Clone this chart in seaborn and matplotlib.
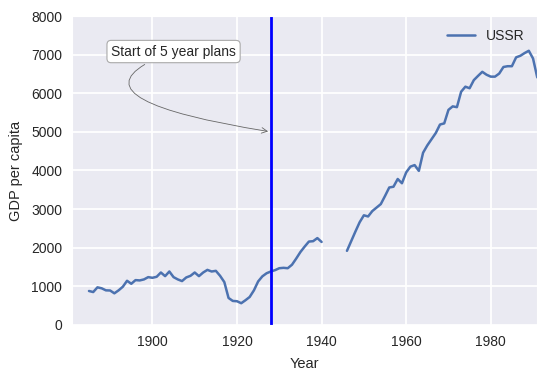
import numpy as np
import pandas as pd
import seaborn as sns
import matplotlib
matplotlib.use('Agg')
import matplotlib.pyplot as plt

# GDP per capita readings, USSR (gap 1941-1945)
years_pre = list(range(1885, 1941))
gdp_pre = [880, 853, 975, 950, 897, 893, 820, 897, 990, 1145,
           1067, 1162, 1154, 1180, 1239, 1222, 1248, 1359, 1265, 1385,
           1239, 1180, 1137, 1231, 1273, 1359, 1265, 1359, 1427, 1385,
           1402, 1273, 1111, 700, 623, 615, 564, 641, 726, 897,
           1128, 1260, 1340, 1385, 1420, 1470, 1480, 1470, 1560, 1720,
           1890, 2030, 2160, 2170, 2250, 2150]
years_post = list(range(1946, 1992))
gdp_post = [1920, 2170, 2420, 2660, 2840, 2810, 2950, 3040, 3130, 3340,
            3560, 3580, 3780, 3670, 3950, 4100, 4140, 3990, 4460, 4650,
            4810, 4970, 5190, 5220, 5570, 5660, 5640, 6040, 6170, 6130,
            6340, 6450, 6555, 6480, 6430, 6430, 6510, 6680, 6700, 6700,
            6930, 6970, 7040, 7100, 6900, 6410]

plan_year = 1928
note_text = 'Start of 5 year plans'

pre = pd.DataFrame({'Year': years_pre, 'GDP': gdp_pre})
post = pd.DataFrame({'Year': years_post, 'GDP': gdp_post})

sns.set_style('darkgrid', {'grid.linewidth': 1.3})
plt.rcParams['font.family'] = ['Liberation Sans', 'DejaVu Sans']
plt.rcParams['grid.linewidth'] = 1.3

fig, ax = plt.subplots(figsize=(5.46, 3.81), dpi=100)
fig.subplots_adjust(left=0.132, right=0.984, top=0.958, bottom=0.147)

color = '#4C72B0'
sns.lineplot(data=pre, x='Year', y='GDP', ax=ax, color=color, lw=1.8, label='USSR')
sns.lineplot(data=post, x='Year', y='GDP', ax=ax, color=color, lw=1.8, label='_nolegend_')

ax.axvline(plan_year, color='b', lw=2)
ax.annotate(note_text, xy=(plan_year, 5000), xytext=(1905, 7080),
            fontsize=10, ha='center', va='center',
            bbox=dict(boxstyle='round', fc='white', ec='#aaaaaa', lw=0.8),
            arrowprops=dict(arrowstyle='->',
                            connectionstyle='angle3,angleA=20,angleB=-9',
                            color='#666666', lw=0.6))

ax.set_xlim(1881, 1991)
ax.set_ylim(0, 8000)
ax.set_xticks([1900, 1920, 1940, 1960, 1980])
ax.set_yticks(range(0, 8001, 1000))
ax.tick_params(labelsize=10)
ax.set_xlabel('Year', fontsize=10.5, labelpad=6)
ax.set_ylabel('GDP per capita', fontsize=10.5, labelpad=6)
ax.legend(loc='upper right', frameon=False, fontsize=10)

fig.savefig('out.png', dpi=100)
